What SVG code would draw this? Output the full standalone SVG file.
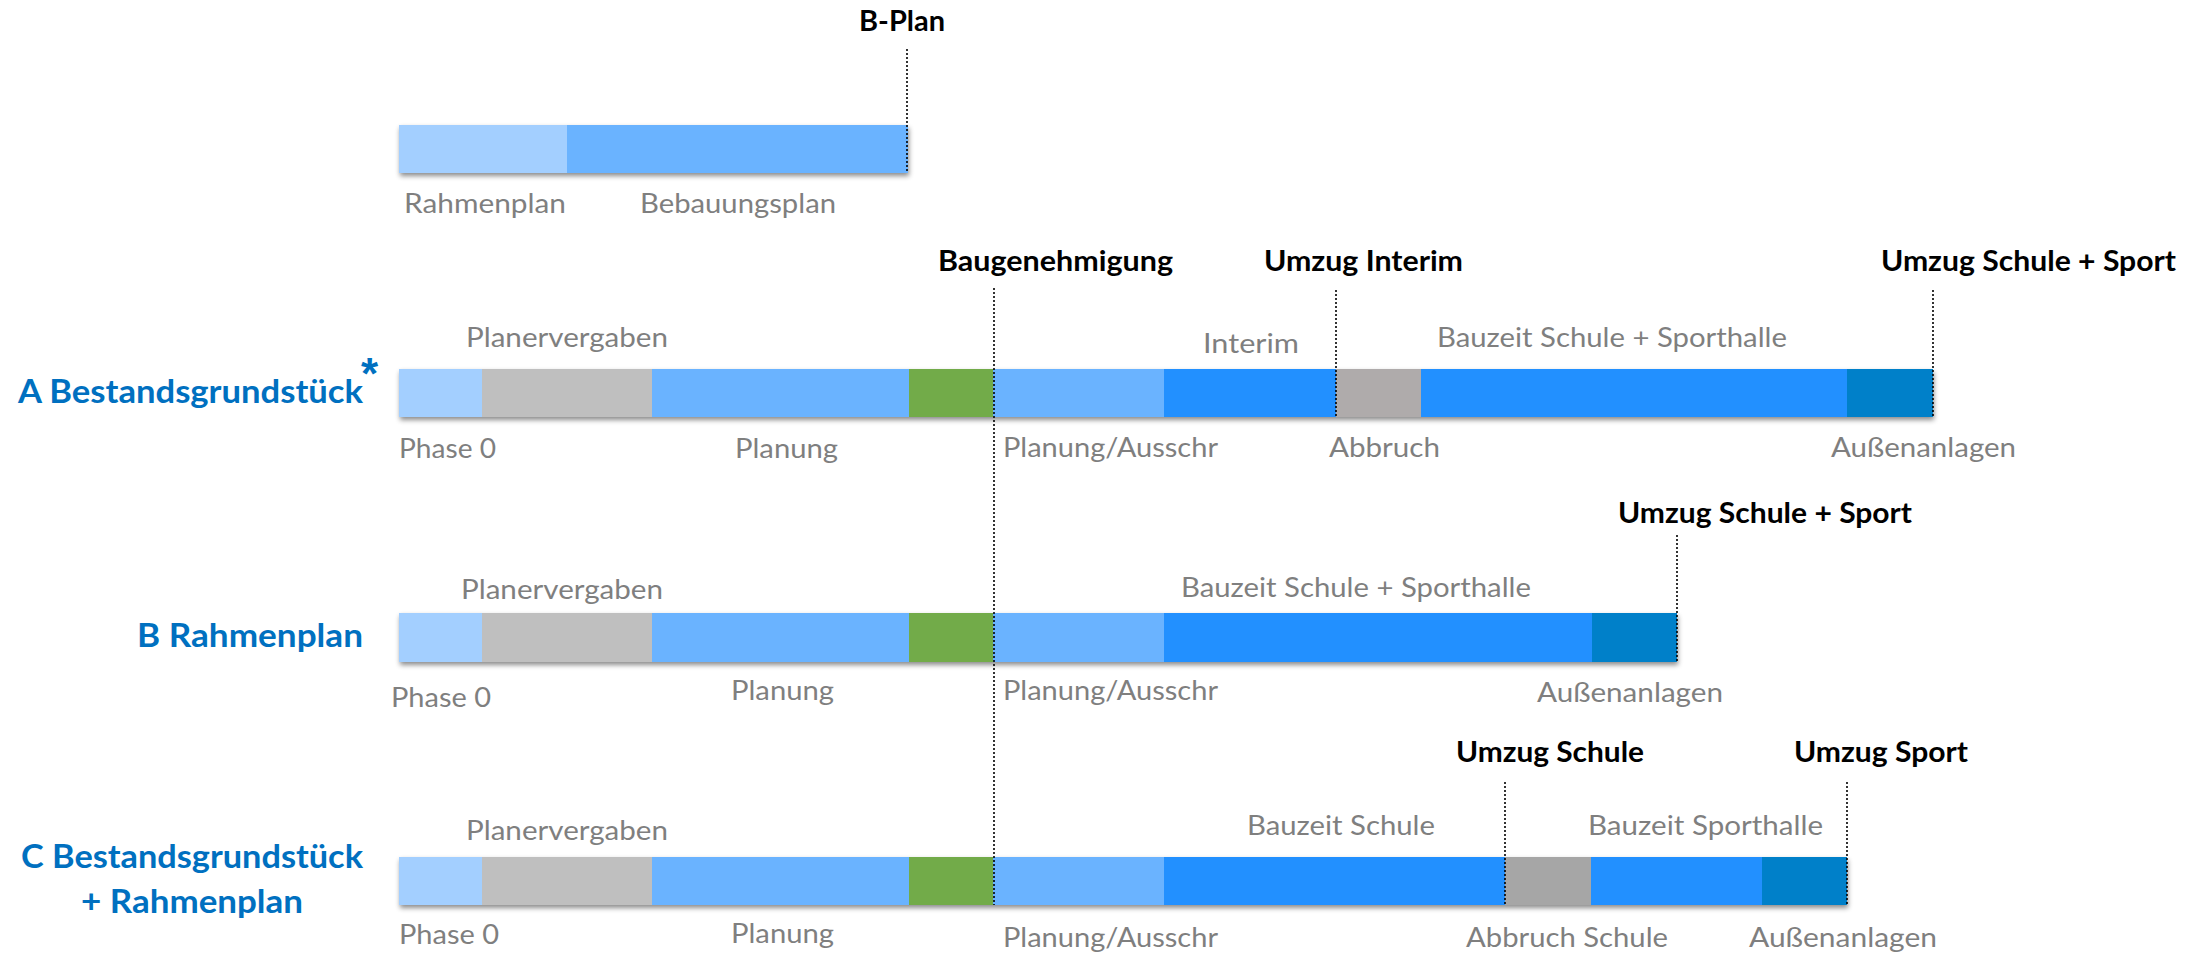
<svg xmlns="http://www.w3.org/2000/svg" width="2201" height="955" viewBox="0 0 2201 955">
<defs>
<filter id="sh" x="-5%" y="-30%" width="110%" height="180%">
<feDropShadow dx="1" dy="3" stdDeviation="2.5" flood-color="#000" flood-opacity="0.45"/>
</filter>
<style>
text{font-family:Lato,"Liberation Sans",sans-serif}
.g{fill:#7f7f7f;font-size:26px}
.k{fill:#000;font-size:28px;font-weight:bold}
.b{fill:#0070c0;font-size:33px;font-weight:bold}
.p0{fill:#a3cfff}
.pv{fill:#bfbfbf}
.pl{fill:#6bb3ff}
.gr{fill:#72ab48}
.bz{fill:#2490ff}
.au{fill:#0080c9}
.abA{fill:#afabab}
.abC{fill:#a6a6a6}
.dot{stroke:#000;stroke-width:1.6;stroke-dasharray:2 2;fill:none}
</style>
</defs>
<rect width="2201" height="955" fill="#fff"/>

<g id="row-bplan">
<g filter="url(#sh)">
<rect class="p0" x="399" y="125" width="169" height="48"/>
<rect class="pl" x="567" y="125" width="341" height="48"/>
</g>
<text class="g" x="404" y="213" textLength="162" lengthAdjust="spacingAndGlyphs">Rahmenplan</text>
<text class="g" x="640" y="213" textLength="196" lengthAdjust="spacingAndGlyphs">Bebauungsplan</text>
<text class="k" x="859" y="31" textLength="86" lengthAdjust="spacingAndGlyphs">B-Plan</text>
</g>

<g id="row-a">
<g filter="url(#sh)">
<rect class="p0" x="399" y="369" width="84" height="48"/>
<rect class="pv" x="482" y="369" width="171" height="48"/>
<rect class="pl" x="652" y="369" width="258" height="48"/>
<rect class="gr" x="909" y="369" width="85" height="48"/>
<rect class="pl" x="993" y="369" width="172" height="48"/>
<rect class="bz" x="1164" y="369" width="172" height="48"/>
<rect class="abA" x="1336" y="369" width="85" height="48"/>
<rect class="bz" x="1421" y="369" width="426" height="48"/>
<rect class="au" x="1847" y="369" width="86" height="48"/>
</g>
<text class="b" x="363" y="403" text-anchor="end" textLength="345" lengthAdjust="spacingAndGlyphs">A Bestandsgrundstück</text>
<text x="361" y="389" style="fill:#0070c0;font-size:44px;font-weight:bold;font-family:'Liberation Sans',sans-serif">*</text>
<text class="g" x="466" y="347" textLength="202" lengthAdjust="spacingAndGlyphs">Planervergaben</text>
<text class="g" x="1203" y="353" textLength="96" lengthAdjust="spacingAndGlyphs">Interim</text>
<text class="g" x="1437" y="347" textLength="350" lengthAdjust="spacingAndGlyphs">Bauzeit Schule + Sporthalle</text>
<text class="g" x="399" y="458" textLength="97" lengthAdjust="spacingAndGlyphs">Phase 0</text>
<text class="g" x="735" y="458" textLength="103" lengthAdjust="spacingAndGlyphs">Planung</text>
<text class="g" x="1003" y="457" textLength="215" lengthAdjust="spacingAndGlyphs">Planung/Ausschr</text>
<text class="g" x="1329" y="457" textLength="111" lengthAdjust="spacingAndGlyphs">Abbruch</text>
<text class="g" x="1831" y="457" textLength="185" lengthAdjust="spacingAndGlyphs">Außenanlagen</text>
<text class="k" x="938" y="271" textLength="235" lengthAdjust="spacingAndGlyphs">Baugenehmigung</text>
<text class="k" x="1264" y="271" textLength="199" lengthAdjust="spacingAndGlyphs">Umzug Interim</text>
<text class="k" x="1881" y="271" textLength="295" lengthAdjust="spacingAndGlyphs">Umzug Schule + Sport</text>
</g>

<g id="row-b">
<g filter="url(#sh)">
<rect class="p0" x="399" y="613" width="84" height="49"/>
<rect class="pv" x="482" y="613" width="171" height="49"/>
<rect class="pl" x="652" y="613" width="258" height="49"/>
<rect class="gr" x="909" y="613" width="85" height="49"/>
<rect class="pl" x="993" y="613" width="172" height="49"/>
<rect class="bz" x="1164" y="613" width="428" height="49"/>
<rect class="au" x="1592" y="613" width="85" height="49"/>
</g>
<text class="b" x="363" y="647" text-anchor="end" textLength="226" lengthAdjust="spacingAndGlyphs">B Rahmenplan</text>
<text class="g" x="461" y="599" textLength="202" lengthAdjust="spacingAndGlyphs">Planervergaben</text>
<text class="g" x="1181" y="597" textLength="350" lengthAdjust="spacingAndGlyphs">Bauzeit Schule + Sporthalle</text>
<text class="g" x="391" y="707" textLength="100" lengthAdjust="spacingAndGlyphs">Phase 0</text>
<text class="g" x="731" y="700" textLength="103" lengthAdjust="spacingAndGlyphs">Planung</text>
<text class="g" x="1003" y="700" textLength="215" lengthAdjust="spacingAndGlyphs">Planung/Ausschr</text>
<text class="g" x="1537" y="702" textLength="186" lengthAdjust="spacingAndGlyphs">Außenanlagen</text>
<text class="k" x="1618" y="523" textLength="294" lengthAdjust="spacingAndGlyphs">Umzug Schule + Sport</text>
</g>

<g id="row-c">
<g filter="url(#sh)">
<rect class="p0" x="399" y="857" width="84" height="48"/>
<rect class="pv" x="482" y="857" width="171" height="48"/>
<rect class="pl" x="652" y="857" width="258" height="48"/>
<rect class="gr" x="909" y="857" width="85" height="48"/>
<rect class="pl" x="993" y="857" width="172" height="48"/>
<rect class="bz" x="1164" y="857" width="341" height="48"/>
<rect class="abC" x="1505" y="857" width="87" height="48"/>
<rect class="bz" x="1591" y="857" width="171" height="48"/>
<rect class="au" x="1762" y="857" width="85" height="48"/>
</g>
<text class="b" x="192" y="868" text-anchor="middle" textLength="342" lengthAdjust="spacingAndGlyphs">C Bestandsgrundstück</text>
<text class="b" x="192" y="913" text-anchor="middle" textLength="222" lengthAdjust="spacingAndGlyphs">+ Rahmenplan</text>
<text class="g" x="466" y="840" textLength="202" lengthAdjust="spacingAndGlyphs">Planervergaben</text>
<text class="g" x="1247" y="835" textLength="188" lengthAdjust="spacingAndGlyphs">Bauzeit Schule</text>
<text class="g" x="1588" y="835" textLength="235" lengthAdjust="spacingAndGlyphs">Bauzeit Sporthalle</text>
<text class="g" x="399" y="944" textLength="100" lengthAdjust="spacingAndGlyphs">Phase 0</text>
<text class="g" x="731" y="943" textLength="103" lengthAdjust="spacingAndGlyphs">Planung</text>
<text class="g" x="1003" y="947" textLength="215" lengthAdjust="spacingAndGlyphs">Planung/Ausschr</text>
<text class="g" x="1466" y="947" textLength="202" lengthAdjust="spacingAndGlyphs">Abbruch Schule</text>
<text class="g" x="1749" y="947" textLength="188" lengthAdjust="spacingAndGlyphs">Außenanlagen</text>
<text class="k" x="1456" y="762" textLength="188" lengthAdjust="spacingAndGlyphs">Umzug Schule</text>
<text class="k" x="1794" y="762" textLength="174" lengthAdjust="spacingAndGlyphs">Umzug Sport</text>
</g>

<g id="connectors">
<line class="dot" x1="907" y1="49" x2="907" y2="173"/>
<line class="dot" x1="994" y1="288" x2="994" y2="905"/>
<line class="dot" x1="1336" y1="290" x2="1336" y2="417"/>
<line class="dot" x1="1933" y1="290" x2="1933" y2="417"/>
<line class="dot" x1="1677" y1="535" x2="1677" y2="662"/>
<line class="dot" x1="1505" y1="782" x2="1505" y2="905"/>
<line class="dot" x1="1847" y1="782" x2="1847" y2="905"/>
</g>
</svg>
